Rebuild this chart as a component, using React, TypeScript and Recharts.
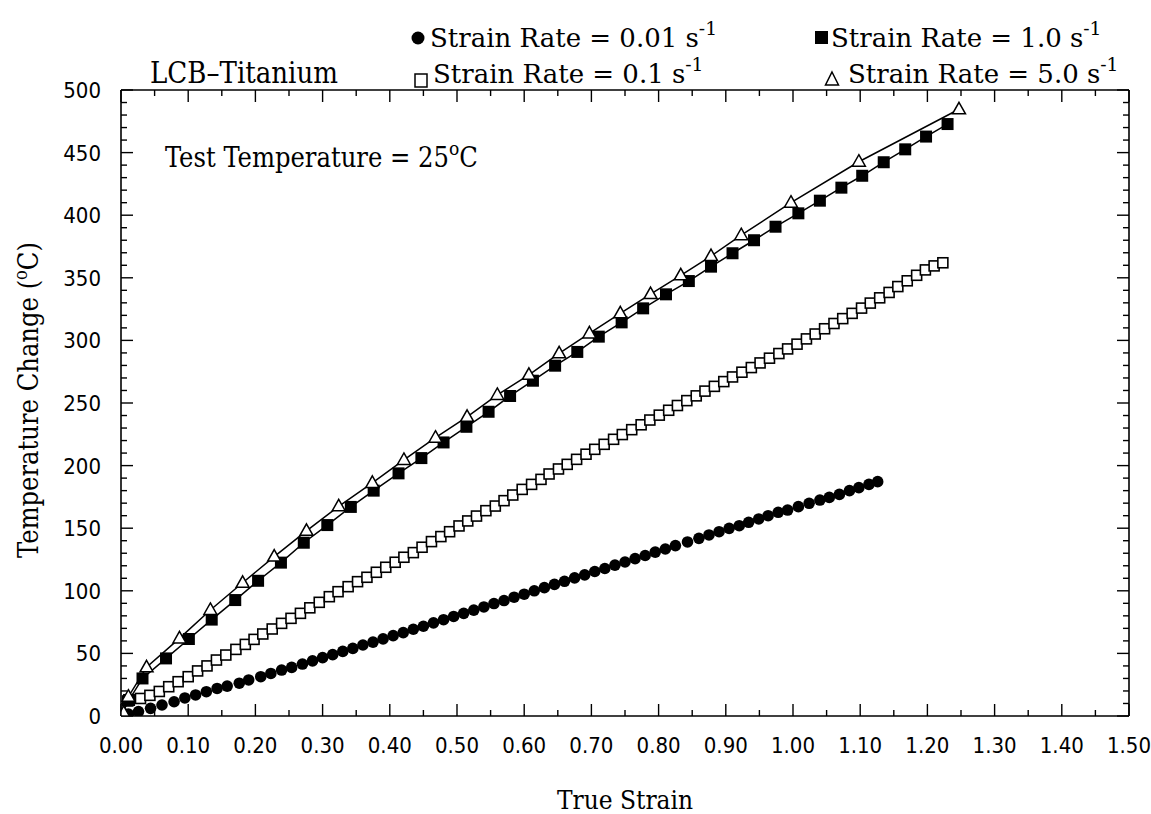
import React from 'react';
import { ScatterChart, Scatter, XAxis, YAxis } from 'recharts';

// ---------- data ----------
const rate001: [number, number][] = [
  [0, 0], [0.011, 1.5], [0.026, 3.5], [0.044, 6.1], [0.061, 8.8], [0.079, 11.4], [0.095, 14.4], [0.111, 16.8],
  [0.127, 19.4], [0.143, 22], [0.158, 23.9], [0.176, 26.2], [0.19, 28.8], [0.208, 31.4], [0.223, 34], [0.239, 36.7],
  [0.254, 38.8], [0.27, 41.5], [0.285, 44], [0.3, 46.6], [0.315, 49], [0.33, 51.6], [0.345, 54], [0.36, 56.7],
  [0.375, 59], [0.39, 61.6], [0.405, 64.2], [0.42, 66.6], [0.435, 69.3], [0.45, 71.7], [0.465, 74.4], [0.48, 76.9],
  [0.495, 79.5], [0.51, 82], [0.525, 84.6], [0.54, 87.1], [0.555, 89.8], [0.57, 92.2], [0.585, 94.9], [0.6, 97.3],
  [0.615, 100], [0.63, 102.5], [0.645, 105.1], [0.66, 107.6], [0.675, 110.3], [0.69, 112.7], [0.705, 115.4], [0.72, 117.8],
  [0.735, 120.5], [0.75, 123], [0.765, 125.7], [0.78, 128.2], [0.795, 130.9], [0.81, 133.4], [0.825, 136.1], [0.843, 139],
  [0.86, 141.9], [0.875, 144.6], [0.89, 147.2], [0.905, 149.9], [0.92, 152], [0.934, 154.7], [0.949, 157.4], [0.963, 160],
  [0.978, 162.7], [0.992, 164.5], [1.008, 167.2], [1.024, 169.9], [1.04, 172.5], [1.054, 174.6], [1.069, 177], [1.084, 180],
  [1.098, 182.4], [1.113, 185], [1.126, 187.2],
];

const rate01: [number, number][] = [
  [0, 0], [0.01, 12], [0.029, 14], [0.043, 16.5], [0.057, 19.6], [0.071, 23.4], [0.085, 27.4], [0.1, 31.4],
  [0.114, 36], [0.128, 40], [0.142, 44.7], [0.156, 48.7], [0.171, 53.2], [0.185, 57.2], [0.198, 61.2], [0.211, 65.5],
  [0.225, 69.5], [0.239, 74], [0.253, 78], [0.267, 82], [0.281, 86.4], [0.295, 90.8], [0.31, 95.3], [0.323, 99.3],
  [0.338, 103.3], [0.352, 107.3], [0.366, 110.8], [0.38, 114.8], [0.394, 118.8], [0.408, 122.8], [0.421, 126.8], [0.435, 130.5],
  [0.448, 134.8], [0.462, 139.3], [0.476, 143.3], [0.489, 147.2], [0.503, 151.8], [0.516, 155.8], [0.529, 159.7], [0.543, 164],
  [0.557, 167.7], [0.57, 172], [0.583, 176.5], [0.597, 181], [0.611, 185], [0.625, 189], [0.637, 193.3], [0.651, 197.3],
  [0.664, 201], [0.678, 205], [0.692, 209.1], [0.705, 213], [0.719, 217], [0.733, 221], [0.746, 224.8], [0.76, 228.7],
  [0.774, 232.6], [0.787, 236.4], [0.801, 240.3], [0.815, 244.2], [0.828, 248], [0.842, 251.9], [0.856, 255.7], [0.869, 259.5],
  [0.883, 263.3], [0.897, 267.1], [0.91, 270.8], [0.924, 274.6], [0.938, 278.3], [0.951, 282], [0.965, 285.8], [0.979, 289.5],
  [0.992, 293.2], [1.006, 297], [1.02, 301.2], [1.033, 305.1], [1.047, 309.3], [1.061, 313.5], [1.074, 317.4], [1.088, 321.6],
  [1.102, 325.8], [1.115, 329.8], [1.129, 334], [1.143, 338.3], [1.156, 343], [1.17, 347.6], [1.184, 352], [1.197, 356.3],
  [1.21, 359.5], [1.223, 362],
];

const rate10: [number, number][] = [
  [0, 1], [0.012, 12.8], [0.032, 30], [0.067, 46], [0.101, 61.5], [0.135, 77], [0.17, 92.6], [0.204, 108],
  [0.238, 122.5], [0.272, 138.4], [0.307, 152.5], [0.342, 167], [0.376, 180], [0.413, 193.8], [0.447, 206], [0.48, 218.5],
  [0.514, 231], [0.547, 243], [0.579, 255.6], [0.613, 267.8], [0.646, 279.8], [0.679, 290.8], [0.711, 303], [0.745, 314.4],
  [0.777, 325.6], [0.811, 336.8], [0.845, 347.4], [0.878, 358.9], [0.91, 369.6], [0.942, 380], [0.974, 390.8], [1.008, 401.5],
  [1.04, 411.6], [1.072, 422], [1.103, 431.5], [1.135, 442.3], [1.167, 452.6], [1.198, 462.8], [1.23, 472.8],
];

const rate50: [number, number][] = [
  [0.004, 2.4], [0.011, 15.4], [0.038, 38.9], [0.087, 62], [0.133, 84.7], [0.181, 106.4], [0.228, 127.3], [0.276, 147.9],
  [0.324, 167.5], [0.374, 186.2], [0.421, 204.5], [0.468, 222.3], [0.515, 239], [0.56, 256.4], [0.607, 272.5], [0.652, 289.7],
  [0.697, 305.6], [0.743, 321.6], [0.788, 337], [0.833, 352], [0.878, 367.4], [0.923, 384], [0.997, 410], [1.098, 442.7],
  [1.247, 484.6],
];

const xMajorTicks = [0, 0.1, 0.2, 0.3, 0.4, 0.5, 0.6, 0.7, 0.8, 0.9, 1.0, 1.1, 1.2, 1.3, 1.4, 1.5];
const xMinorTicks = [0.05, 0.15, 0.25, 0.35, 0.45, 0.55, 0.65, 0.75, 0.85, 0.95, 1.05, 1.15, 1.25, 1.35, 1.45];
const yMajorTicks = [0, 50, 100, 150, 200, 250, 300, 350, 400, 450, 500];
const yMinorTicks = [
  10, 20, 30, 40, 60, 70, 80, 90, 110, 120, 130, 140, 160, 170, 180, 190, 210, 220, 230, 240,
  260, 270, 280, 290, 310, 320, 330, 340, 360, 370, 380, 390, 410, 420, 430, 440, 460, 470, 480, 490,
];

const legendLabels = ['Strain Rate = 0.01 s', 'Strain Rate = 0.1 s', 'Strain Rate = 1.0 s', 'Strain Rate = 5.0 s'];

// ---------- layout ----------
const W = 1151;
const H = 814;
const PL = 121, PR = 1129, PT = 90, PB = 716;
const SERIF = '"DejaVu Serif Condensed", "DejaVu Serif", serif';
const SERIF_WIDE = '"DejaVu Serif", serif';
const SANS = '"DejaVu Sans Condensed", "DejaVu Sans", sans-serif';

const toPts = (arr: [number, number][]) => arr.map(([strain, temp]) => ({ strain, temp }));
const xAll = [...xMajorTicks, ...xMinorTicks].sort((a, b) => a - b);
const yAll = [...yMajorTicks, ...yMinorTicks].sort((a, b) => a - b);

const BottomTick = (p: any) => {
  const v = p.payload.value;
  const major = xMajorTicks.includes(v);
  return (
    <g>
      <line x1={p.x} x2={p.x} y1={p.y} y2={p.y - (major ? 12 : 6)} stroke="#000" strokeWidth={1.4} />
      {major && (
        <text x={p.x} y={p.y + 37} textAnchor="middle" fontFamily={SANS} fontSize={22} fill="#000">
          {v.toFixed(2)}
        </text>
      )}
    </g>
  );
};
const TopTick = (p: any) => {
  const major = xMajorTicks.includes(p.payload.value);
  return <line x1={p.x} x2={p.x} y1={p.y} y2={p.y + (major ? 12 : 6)} stroke="#000" strokeWidth={1.4} />;
};
const LeftTick = (p: any) => {
  const v = p.payload.value;
  const major = yMajorTicks.includes(v);
  return (
    <g>
      <line x1={p.x} x2={p.x + (major ? 12 : 6)} y1={p.y} y2={p.y} stroke="#000" strokeWidth={1.4} />
      {major && (
        <text x={p.x - 20} y={p.y + 8} textAnchor="end" fontFamily={SANS} fontSize={22} fill="#000">
          {v}
        </text>
      )}
    </g>
  );
};
const RightTick = (p: any) => {
  const major = yMajorTicks.includes(p.payload.value);
  return <line x1={p.x} x2={p.x - (major ? 12 : 6)} y1={p.y} y2={p.y} stroke="#000" strokeWidth={1.4} />;
};

const Circle = (p: any) => <circle cx={p.cx} cy={p.cy} r={5.8} fill="#000" />;
const OpenSquare = (p: any) => (
  <rect x={p.cx - 5} y={p.cy - 5} width={10} height={10} fill="#fff" stroke="#000" strokeWidth={1.6} />
);
const FilledSquare = (p: any) => <rect x={p.cx - 6} y={p.cy - 6} width={12} height={12} fill="#000" />;
const Triangle = (p: any) => (
  <path
    d={`M${p.cx},${p.cy - 7} L${p.cx + 6.5},${p.cy + 4.5} L${p.cx - 6.5},${p.cy + 4.5} Z`}
    fill="#fff"
    stroke="#000"
    strokeWidth={1.5}
  />
);

const Sup = ({ children, size }: { children: string; size: number }) => (
  <tspan dy={-size * 0.45} fontSize={size * 0.72}>
    {children}
  </tspan>
);

const LF = 26;

export default function App() {
  const axisLine = { stroke: '#000', strokeWidth: 1.6 };
  return (
    <div style={{ position: 'absolute', left: 0, top: 0, width: W, height: H, background: '#fff' }}>
      <ScatterChart
        width={W}
        height={H}
        margin={{ top: PT - 10, bottom: H - PB - 30, left: PL - 60, right: W - PR - 10 }}
      >
        <XAxis
          type="number"
          dataKey="strain"
          domain={[0, 1.5]}
          ticks={xAll}
          interval={0}
          height={30}
          tickSize={0}
          tickMargin={0}
          tickLine={false}
          axisLine={axisLine}
          tick={<BottomTick />}
          allowDataOverflow
        />
        <XAxis
          xAxisId="top"
          orientation="top"
          type="number"
          dataKey="strain"
          domain={[0, 1.5]}
          ticks={xAll}
          interval={0}
          height={10}
          tickSize={0}
          tickMargin={0}
          tickLine={false}
          axisLine={axisLine}
          tick={<TopTick />}
          allowDataOverflow
        />
        <YAxis
          type="number"
          dataKey="temp"
          domain={[0, 500]}
          ticks={yAll}
          interval={0}
          width={60}
          tickSize={0}
          tickMargin={0}
          tickLine={false}
          axisLine={axisLine}
          tick={<LeftTick />}
          allowDataOverflow
        />
        <YAxis
          yAxisId="right"
          orientation="right"
          type="number"
          dataKey="temp"
          domain={[0, 500]}
          ticks={yAll}
          interval={0}
          width={10}
          tickSize={0}
          tickMargin={0}
          tickLine={false}
          axisLine={axisLine}
          tick={<RightTick />}
          allowDataOverflow
        />
        <Scatter data={toPts(rate001)} shape={<Circle />} isAnimationActive={false} />
        <Scatter data={toPts(rate01)} shape={<OpenSquare />} isAnimationActive={false} />
        <Scatter
          data={toPts(rate10)}
          shape={<FilledSquare />}
          line={{ stroke: '#000', strokeWidth: 1.5 }}
          lineType="joint"
          isAnimationActive={false}
        />
        <Scatter
          data={toPts(rate50)}
          shape={<Triangle />}
          line={{ stroke: '#000', strokeWidth: 1.5 }}
          lineType="joint"
          isAnimationActive={false}
        />
      </ScatterChart>
      <svg width={W} height={H} style={{ position: 'absolute', left: 0, top: 0, pointerEvents: 'none' }}>
        {/* title */}
        <text x={150} y={83} fontFamily={SERIF} fontSize={29} fill="#000">
          LCB–Titanium
        </text>
        {/* legend row 1 */}
        <circle cx={418} cy={38} r={6.5} fill="#000" />
        <text x={430} y={47} fontFamily={SERIF_WIDE} fontSize={LF} fill="#000">
          {legendLabels[0]}
          <Sup size={LF}>-1</Sup>
        </text>
        <rect x={815} y={31} width={13} height={13} fill="#000" />
        <text x={831} y={47} fontFamily={SERIF_WIDE} fontSize={LF} fill="#000">
          {legendLabels[2]}
          <Sup size={LF}>-1</Sup>
        </text>
        {/* legend row 2 */}
        <rect x={415} y={74} width={12} height={13} fill="#fff" stroke="#000" strokeWidth={1.5} />
        <text x={433} y={83} fontFamily={SERIF_WIDE} fontSize={LF} fill="#000">
          {legendLabels[1]}
          <Sup size={LF}>-1</Sup>
        </text>
        <path d="M832,72 L838.5,85 L825.5,85 Z" fill="#fff" stroke="#000" strokeWidth={1.5} />
        <text x={848} y={83} fontFamily={SERIF_WIDE} fontSize={LF} fill="#000">
          {legendLabels[3]}
          <Sup size={LF}>-1</Sup>
        </text>
        {/* annotation */}
        <text x={165} y={167} fontFamily={SERIF} fontSize={27} fill="#000">
          Test Temperature = 25
          <tspan dy={-12} fontSize={19}>o</tspan>
          <tspan dy={12}>C</tspan>
        </text>
        {/* axis titles */}
        <text x={625} y={809} textAnchor="middle" fontFamily={SERIF} fontSize={26} fill="#000">
          True Strain
        </text>
        <text
          x={0}
          y={0}
          transform="translate(38,400) rotate(-90)"
          textAnchor="middle"
          fontFamily={SERIF}
          fontSize={27}
          fill="#000"
        >
          Temperature Change (
          <tspan dy={-11} fontSize={18}>o</tspan>
          <tspan dy={11}>C)</tspan>
        </text>
      </svg>
    </div>
  );
}
